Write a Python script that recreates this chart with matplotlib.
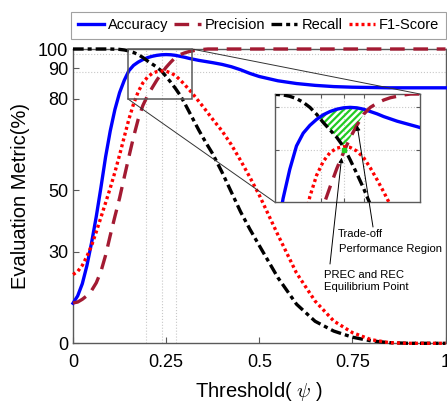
import numpy as np
import matplotlib
matplotlib.use("Agg")
import matplotlib.pyplot as plt

plt.rcParams["font.family"] = ["Liberation Sans", "DejaVu Sans"]
plt.rcParams["mathtext.fontset"] = "cm"
plt.rcParams["hatch.linewidth"] = 1.6

# threshold values
x = [0, 0.0125, 0.025, 0.0375, 0.05, 0.0625, 0.075, 0.0875, 0.1, 0.1125,
     0.125, 0.1375, 0.15, 0.1625, 0.175, 0.1875, 0.2, 0.2125, 0.225, 0.2375,
     0.25, 0.2625, 0.275, 0.2875, 0.3, 0.3125, 0.325, 0.3375, 0.35, 0.3625,
     0.375, 0.4, 0.425, 0.45, 0.475, 0.5, 0.55, 0.6, 0.65, 0.7,
     0.75, 0.8, 0.85, 0.9, 0.95, 1.0]

accuracy = [13.1, 15.5, 19.5, 25.5, 33, 41.5, 51, 61, 69.5, 76.5,
            82, 86, 89.2, 91.5, 93.2, 94.5, 95.5, 96.2, 96.7, 97.0,
            97.1, 97.0, 96.7, 96.2, 95.7, 95.1, 94.6, 94.1, 93.7, 93.3,
            92.9, 92.0, 90.8, 89.5, 88.3, 87.3, 85.9, 85.0, 84.4, 84.0,
            83.8, 83.7, 83.6, 83.6, 83.6, 83.6]

precision = [13.2, 13.5, 14.4, 15.6, 17.3, 19.8, 23.5, 28.8, 35.3, 41.5,
             47.5, 54.3, 61, 67.5, 73.3, 77.8, 81, 83.6, 86.1, 88.3,
             90.5, 93.2, 95.6, 97.1, 98.0, 98.7, 99.2, 99.5, 99.8, 100,
             100, 100, 100, 100, 100, 100, 100, 100, 100, 100,
             100, 100, 100, 100, 100, 100]

recall = [100, 100, 100, 100, 100, 100, 100, 100, 100, 99.9,
          99.8, 99.5, 99, 98.2, 97.1, 95.6, 93.8, 92.2, 90.6, 89.1,
          87.3, 85.4, 83.4, 81.2, 78.5, 75.6, 72.7, 69.8, 67.1, 64.5,
          62, 56, 49.5, 43, 37.3, 32, 21.5, 12.8, 7.2, 4,
          2, 0.8, 0.2, 0, 0, 0]

f1 = [22.5, 23.5, 25.5, 28.5, 32, 36.5, 41.2, 46, 50.8, 56,
      61.6, 67.5, 73.3, 78.3, 82.3, 85.2, 87.1, 88.3, 88.9, 89.1,
      89, 88.5, 87.6, 86.2, 84.6, 82.9, 81.1, 79.2, 77.3, 75.3,
      73.3, 69.5, 65, 59.8, 54.3, 48.5, 35.5, 23, 13.8, 7.3,
      3.5, 1.2, 0.2, 0, 0, 0]

# reference lines (equilibrium point and trade-off region bounds)
ref_x = [0.196, 0.239, 0.276]
ref_y = [97.2, 88.7]
eq_x, eq_y = 0.239, 88.7

y_ticks = [0, 30, 50, 80, 90, 100]
x_ticks = [0, 0.25, 0.5, 0.75, 1]
x_tick_labels = ["0", "0.25", "0.5", "0.75", "1"]


# y axis is squeezed above 90
def fwd(v):
    v = np.asarray(v, dtype=float)
    return np.where(v <= 90, v, 90 + (v - 90) * 0.63)


def inv(v):
    v = np.asarray(v, dtype=float)
    return np.where(v <= 90, v, 90 + (v - 90) / 0.63)


W, H = 447, 405
fig = plt.figure(figsize=(W / 100, H / 100), dpi=100)
ax = fig.add_axes([73 / W, 1 - 343.3 / H, 372.5 / W, 294.3 / H])
axins = fig.add_axes([275 / W, 1 - 202.3 / H, 145 / W, 108.3 / H])

frame_col = "#5a5a5a"
styles = [
    ("Accuracy", accuracy, dict(color="#0000ff", linestyle="-")),
    ("Precision", precision, dict(color="#a31a32", dashes=(4.4, 2.6))),
    ("Recall", recall, dict(color="black", dashes=(3.2, 1.2, 1.2, 1.2))),
    ("F1-Score", f1, dict(color="#ff0000", dashes=(0.9, 0.9))),
]

for a in (ax, axins):
    a.set_yscale("function", functions=(fwd, inv))
    for xv in ref_x:
        a.axvline(xv, color="#c8c8c8", linestyle=":", linewidth=0.8, zorder=1)
    for yv in ref_y:
        a.axhline(yv, color="#c8c8c8", linestyle=":", linewidth=0.8, zorder=1)
    for sp in a.spines.values():
        sp.set_color(frame_col)
        sp.set_linewidth(1.0)

for label, vals, st in styles:
    ax.plot(x, vals, label=label, linewidth=2.4, zorder=3, clip_on=False, **st)
    axins.plot(x, vals, linewidth=2.4, zorder=3, **st)

ax.set_xlim(0, 1)
ax.set_ylim(0, 100)
ax.set_xticks(x_ticks)
ax.set_xticklabels(x_tick_labels)
ax.set_yticks(y_ticks)
ax.set_yticklabels([str(t) for t in y_ticks])
ax.minorticks_off()
ax.tick_params(direction="in", length=4, color=frame_col, labelsize=13)
ax.tick_params(axis="x", pad=8)
ax.tick_params(axis="y", pad=3.5)
ax.set_xlabel(r"Threshold( $\psi$ )", fontsize=14.5, labelpad=6)
ax.set_ylabel("Evaluation Metric(%)", fontsize=14.5, labelpad=6)

# inset
xa = np.array(x)
A = np.array(accuracy)
low = np.maximum(np.array(recall), np.array(precision))
axins.fill_between(xa, low, A, where=A > low, interpolate=True,
                   facecolor="none", edgecolor="#22cc22", hatch="/////",
                   linewidth=0, zorder=2)
axins.plot([eq_x], [eq_y], "s", color="#22cc22", markersize=3.5, zorder=4)
axins.set_xlim(0.11, 0.38)
axins.set_ylim(81.5, 100)
axins.set_xticks(ref_x)
axins.set_yticks(ref_y)
axins.minorticks_off()
axins.tick_params(direction="in", length=3, color=frame_col, top=True,
                  right=True, labelleft=False, labelbottom=False)

ind = ax.indicate_inset((0.147, 80, 0.172, 20), inset_ax=axins,
                        edgecolor=frame_col, linewidth=1.1, alpha=1)
for c in ind.connectors:
    c.set_linewidth(0.7)
    c.set_color("#333333")


# annotations
def fpx(px, py):
    return (px / W, 1 - py / H)


arrow = dict(arrowstyle="-|>", color="black", lw=0.7, mutation_scale=7,
             shrinkA=0, shrinkB=0)
axins.annotate("", xy=(0.263, 93.2), xycoords="data",
               xytext=fpx(373, 227), textcoords="figure fraction",
               arrowprops=arrow)
axins.annotate("", xy=(0.234, 87.6), xycoords="data",
               xytext=fpx(330, 264), textcoords="figure fraction",
               arrowprops=arrow)
fig.text(*fpx(338, 234), "Trade-off", fontsize=8.1, va="center")
fig.text(*fpx(339, 249), "Performance Region", fontsize=8.1, va="center")
fig.text(*fpx(324, 275), "PREC and REC", fontsize=8.1, va="center")
fig.text(*fpx(324, 287), "Equilibrium Point", fontsize=8.1, va="center")

handles, labels = ax.get_legend_handles_labels()
leg = fig.legend(handles, labels, loc="lower left", ncol=4, mode="expand",
                 bbox_to_anchor=(71 / W, 1 - 39 / H, 375 / W, 29 / H),
                 borderaxespad=0, fontsize=10.5, handlelength=1.8,
                 handletextpad=0.3, columnspacing=0.6, fancybox=False,
                 frameon=True, borderpad=0.45)
leg.get_frame().set_edgecolor("#8a8a8a")
leg.get_frame().set_linewidth(0.8)

fig.savefig("out.png", dpi=100)
